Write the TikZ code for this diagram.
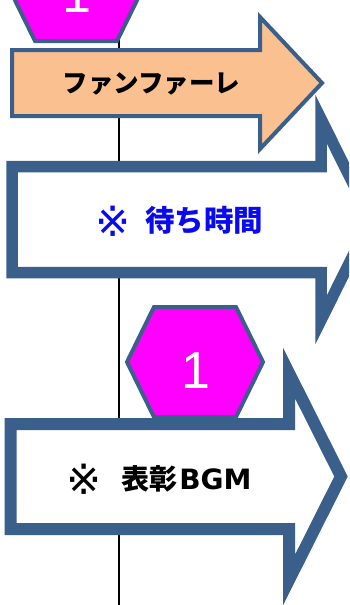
\documentclass[tikz,border=0pt]{standalone}
\usepackage{fontspec}
\setmainfont{Liberation Sans}
\newfontfamily\jpfont{Noto Sans CJK JP}
\newfontfamily\abcfont{DejaVu Sans}
\definecolor{rimblue}{HTML}{3A5F8B}
\definecolor{peach}{HTML}{FAC090}
\definecolor{hexpink}{HTML}{FF00FF}
\definecolor{noteblue}{HTML}{0A0AF0}
\newcommand{\refmark}[1]{\raisebox{-5.5pt}{\abcfont\mdseries\fontsize{#1}{#1}\selectfont ※}}
\tikzset{
  rim/.style={draw=rimblue, line join=miter, miter limit=10},
  cue/.style={inner sep=0pt},
  hexnum/.style={text=white, font=\fontsize{52}{52}\selectfont, inner sep=0pt}
}
\begin{document}
\begin{tikzpicture}[x=1pt,y=-1pt]
                \useasboundingbox (0,0) rectangle (349,605);
                \begin{scope}
                \clip (0,0) rectangle (349,605);
                % time line behind everything
                \coordinate (top) at (119,0);
                \coordinate (bottom) at (119,605);
                \draw[line width=2pt] (top) -- (bottom);
                % hexagon markers
                \foreach \cx/\cy [count=\k] in {76/-14,195/362}{
                    \filldraw[rim, line width=4pt, fill=hexpink] (\cx-41,\cy-55) -- (\cx+41,\cy-55) -- (\cx+68,\cy) -- (\cx+41,\cy+55) -- (\cx-41,\cy+55) -- (\cx-68,\cy) -- cycle;
                    \node[hexnum] (num\k) at (\cx+0.5,\cy+9) {1};}
                % fanfare arrow
                \filldraw[rim, line width=4pt, fill=peach] (12,50) -- (260,50) -- (260,17) -- (322,83) -- (260,149) -- (260,116) -- (12,116) -- cycle;
                \node[cue, font=\jpfont\bfseries\fontsize{25.5}{25.5}\selectfont] (fanfare) at (151.5,84) {ファンファーレ};
                % waiting arrow
                \filldraw[rim, line width=11.5pt, fill=white] (12,166.5) -- (321,166.5) -- (321,119) -- (371,219.5) -- (321,320) -- (321,272.5) -- (12,272.5) -- cycle;
                \node[cue, anchor=base west, text=noteblue, font=\jpfont\bfseries\fontsize{29.5}{29.5}\selectfont] (wait) at (95,231) {\refmark{42}\hspace{15pt}待ち時間};
                % award arrow
                \filldraw[rim, line width=12pt, fill=white] (10.5,424) -- (289,424) -- (289,373) -- (341,476.5) -- (289,580) -- (289,529) -- (10.5,529) -- cycle;
                \node[cue, anchor=base west, font=\jpfont\bfseries\fontsize{28}{28}\selectfont] (award) at (66,489) {\refmark{42}\hspace{20pt}表彰\hspace{2pt}{\abcfont\bfseries\fontsize{28}{28}\selectfont BGM}};
                \end{scope}
            \end{tikzpicture}
\end{document}
